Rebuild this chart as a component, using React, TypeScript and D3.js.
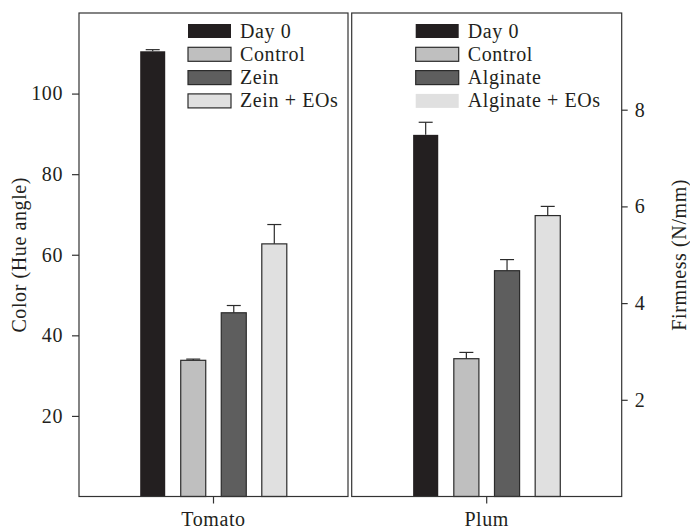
import React, { useEffect, useRef } from 'react';
import * as d3 from 'd3';

// data
const tomatoSeries = ['Day 0', 'Control', 'Zein', 'Zein + EOs'];
const tomatoValues = [110.5, 33.8, 45.6, 62.7];
const tomatoErrors = [0.4, 0.3, 1.8, 4.8];

const plumSeries = ['Day 0', 'Control', 'Alginate', 'Alginate + EOs'];
const plumValues = [7.48, 2.85, 4.67, 5.81];
const plumErrors = [0.26, 0.13, 0.23, 0.19];

const leftTicks = [20, 40, 60, 80, 100];
const rightTicks = [2, 4, 6, 8];

const fills = ['#231f20', '#bfbfbf', '#5e5e5e', '#e0e0e0'];
const ink = '#231f20';
const font = '"Liberation Serif", "Times New Roman", serif';

const App = () => {
  const ref = useRef<SVGSVGElement>(null);

  useEffect(() => {
    const width = 690;
    const height = 529;
    const top = 13;
    const bottom = 496.5;

    const svg = d3.select(ref.current);
    svg.selectAll('*').remove();
    svg.attr('width', width).attr('height', height);

    const panels = [
      { x0: 79, x1: 348, name: 'Tomato', series: tomatoSeries, values: tomatoValues, errors: tomatoErrors, max: 120, legendX: 109, swatchBorder: [false, true, true, true] },
      { x0: 351.7, x1: 621.7, name: 'Plum', series: plumSeries, values: plumValues, errors: plumErrors, max: 10, legendX: 64, swatchBorder: [false, true, true, false] },
    ];

    panels.forEach((p, pi) => {
      const y = d3.scaleLinear().domain([0, p.max]).range([bottom, top]);
      const x = d3.scaleBand<number>()
        .domain(d3.range(p.series.length))
        .range([p.x0, p.x1])
        .paddingInner(0.383)
        .paddingOuter(1.51);

      const g = svg.append('g');

      // bars
      g.selectAll('rect.bar')
        .data(p.values)
        .join('rect')
        .attr('class', 'bar')
        .attr('x', (d, i) => x(i)!)
        .attr('y', d => y(d))
        .attr('width', x.bandwidth())
        .attr('height', d => bottom - y(d))
        .attr('fill', (d, i) => fills[i])
        .attr('stroke', '#2b2b2b')
        .attr('stroke-width', (d, i) => (i === 0 ? 0 : 1.2));

      // error bars (upper only)
      const cap = 7;
      p.values.forEach((v, i) => {
        const cx = x(i)! + x.bandwidth() / 2;
        const yTop = y(v + p.errors[i]);
        g.append('line')
          .attr('x1', cx).attr('x2', cx)
          .attr('y1', y(v)).attr('y2', yTop)
          .attr('stroke', '#2b2b2b').attr('stroke-width', 1.2);
        g.append('line')
          .attr('x1', cx - cap).attr('x2', cx + cap)
          .attr('y1', yTop).attr('y2', yTop)
          .attr('stroke', '#2b2b2b').attr('stroke-width', 1.2);
      });

      // frame
      g.append('rect')
        .attr('x', p.x0).attr('y', top)
        .attr('width', p.x1 - p.x0).attr('height', bottom - top)
        .attr('fill', 'none')
        .attr('stroke', '#333')
        .attr('stroke-width', 1.2);

      // bottom category tick + label
      const mid = (p.x0 + p.x1) / 2;
      g.append('line')
        .attr('x1', mid).attr('x2', mid)
        .attr('y1', bottom).attr('y2', bottom + 7)
        .attr('stroke', '#333').attr('stroke-width', 1.2);
      g.append('text')
        .attr('x', mid).attr('y', 526)
        .attr('text-anchor', 'middle')
        .attr('font-family', font).attr('font-size', 20)
        .attr('letter-spacing', 0.6)
        .attr('fill', ink)
        .text(p.name);

      // legend
      p.series.forEach((s, i) => {
        const cy = 31 + i * 23.3;
        g.append('rect')
          .attr('x', p.x0 + p.legendX).attr('y', cy - 7)
          .attr('width', 43).attr('height', 14)
          .attr('fill', fills[i])
          .attr('stroke', p.swatchBorder[i] ? '#2b2b2b' : 'none')
          .attr('stroke-width', 1.2);
        g.append('text')
          .attr('x', p.x0 + p.legendX + 52).attr('y', cy + 6.5)
          .attr('font-family', font).attr('font-size', 20)
          .attr('letter-spacing', 0.6)
          .attr('fill', ink)
          .text(s);
      });

      // y axes
      const axis = pi === 0
        ? d3.axisLeft(y).tickValues(leftTicks).tickSize(7).tickPadding(9)
        : d3.axisRight(y).tickValues(rightTicks).tickSize(6).tickPadding(7);
      const ax = g.append('g')
        .attr('transform', `translate(${pi === 0 ? p.x0 : p.x1},0)`)
        .call(axis);
      ax.select('.domain').remove();
      ax.selectAll('line').attr('stroke', '#333').attr('stroke-width', 1.2);
      ax.selectAll('text')
        .attr('font-family', font).attr('font-size', 20)
        .attr('letter-spacing', 0.6)
        .attr('fill', ink);
    });

    // axis titles
    svg.append('text')
      .attr('transform', `translate(26,${(top + bottom) / 2}) rotate(-90)`)
      .attr('text-anchor', 'middle')
      .attr('font-family', font).attr('font-size', 20)
      .attr('letter-spacing', 0.6)
      .attr('fill', ink)
      .text('Color (Hue angle)');
    svg.append('text')
      .attr('transform', `translate(686,${(top + bottom) / 2}) rotate(-90)`)
      .attr('text-anchor', 'middle')
      .attr('font-family', font).attr('font-size', 20)
      .attr('letter-spacing', 0.6)
      .attr('fill', ink)
      .text('Firmness (N/mm)');
  }, []);

  return (
    <svg
      ref={ref}
      style={{ position: 'absolute', left: 0, top: 0, display: 'block', background: '#fff' }}
    />
  );
};

export default App;
